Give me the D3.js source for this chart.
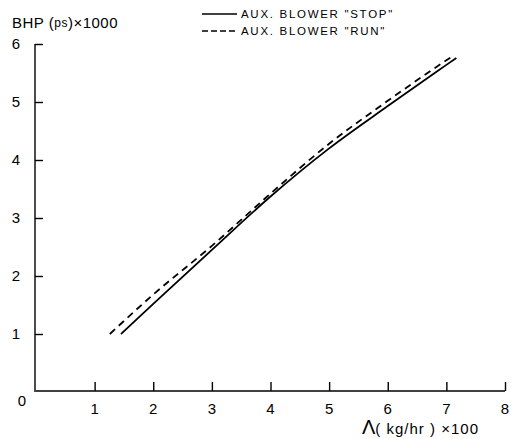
<!DOCTYPE html>
<html><head><meta charset="utf-8">
<script src="https://cdn.jsdelivr.net/npm/d3@7"></script>
<style>body{margin:0;background:#fff}svg{display:block}text{font-family:"Liberation Sans",Arial,sans-serif;fill:#000}</style>
</head><body><svg id="c" width="516" height="439"></svg>
<script>
const xTicks = [1,2,3,4,5,6,7,8];
const yTicks = [1,2,3,4,5,6];
const stopX = [1.45, 2, 3, 4, 5, 6, 7, 7.17];
const stopY = [1.0, 1.52, 2.45, 3.37, 4.2, 4.93, 5.64, 5.76];
const runX  = [1.26, 2, 3, 4, 5, 6, 7, 7.12];
const runY  = [1.0, 1.68, 2.52, 3.42, 4.28, 5.02, 5.72, 5.80];
const legendLabels = ['AUX. BLOWER  "STOP"', 'AUX. BLOWER  "RUN"'];

const svg = d3.select('#c');
const x = d3.scaleLinear().domain([0,8]).range([36,505]);
const y = d3.scaleLinear().domain([0,6]).range([392,44]);

// axes
const xAxis = d3.axisTop(x).tickValues(xTicks).tickSize(9).tickFormat('');
const gx = svg.append('g').attr('transform','translate(0,391)').call(xAxis);
gx.select('.domain').attr('d', `M${x(0)},0H${x(8)}`);
gx.selectAll('line,path').attr('stroke','#000').attr('stroke-width',1.4);

const yAxis = d3.axisRight(y).tickValues(yTicks).tickSize(8).tickFormat('');
const gy = svg.append('g').attr('transform','translate(35,0)').call(yAxis);
gy.select('.domain').attr('d', `M0,${y(6)}V${y(0)}`);
gy.selectAll('line,path').attr('stroke','#000').attr('stroke-width',1.4);

// tick labels
svg.append('g').selectAll('text').data(xTicks).join('text')
  .attr('x', d=>x(d)).attr('y', 414).attr('text-anchor','middle')
  .attr('font-size',15).text(d=>d);
svg.append('g').selectAll('text').data(yTicks).join('text')
  .attr('x', 16).attr('y', d=>y(d)+5).attr('text-anchor','middle')
  .attr('font-size',15).text(d=>d);
svg.append('text').attr('x',22).attr('y',406).attr('text-anchor','middle').attr('font-size',15).text('0');

// axis titles
const t1 = svg.append('text').attr('x',12).attr('y',28).attr('font-size',15).attr('letter-spacing',0.5);
t1.append('tspan').text('BHP (');
t1.append('tspan').attr('font-size',12).attr('dy',-1).text('ps');
t1.append('tspan').attr('dy',1).text(')×1000');
const t2 = svg.append('text').attr('x',362).attr('y',434).attr('font-size',15);
t2.append('tspan').attr('font-size',20).text('Λ');
t2.append('tspan').attr('letter-spacing',1).text('( kg/hr ) ×100');

// lines
const line = d3.line().x(d=>x(d[0])).y(d=>y(d[1])).curve(d3.curveMonotoneX);
svg.append('path').datum(stopX.map((v,i)=>[v,stopY[i]]))
  .attr('d', line).attr('fill','none').attr('stroke','#000').attr('stroke-width',1.8);
svg.append('path').datum(runX.map((v,i)=>[v,runY[i]]))
  .attr('d', line).attr('fill','none').attr('stroke','#000').attr('stroke-width',1.8)
  .attr('stroke-dasharray','7,5');

// legend
const lg = svg.append('g');
[0,1].forEach(i=>{
  const yy = 14 + i*17;
  lg.append('line').attr('x1',202).attr('x2',237).attr('y1',yy).attr('y2',yy)
    .attr('stroke','#000').attr('stroke-width',1.3)
    .attr('stroke-dasharray', i===1 ? '6,3' : null);
  lg.append('text').attr('x',241).attr('y',yy+4).attr('font-size',11.5)
    .attr('letter-spacing',1.7).text(legendLabels[i]);
});
</script></body></html>
